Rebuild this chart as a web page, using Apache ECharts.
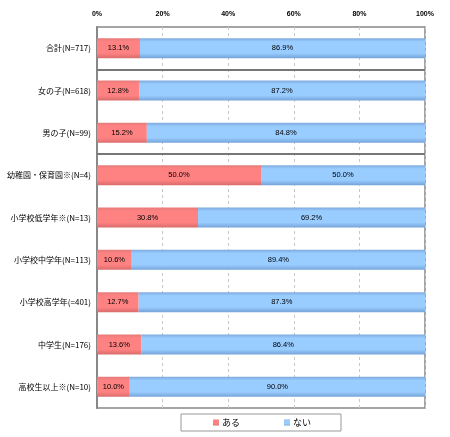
<!DOCTYPE html>
<html>
<head>
<meta charset="utf-8">
<script src="https://cdn.jsdelivr.net/npm/echarts@6/dist/echarts.min.js"></script>
<style>
  html, body { margin: 0; padding: 0; background: #fff; }
  #chart { width: 450px; height: 437px; }
</style>
</head>
<body>
<div id="chart"></div>
<script>
const categories = [
  '合計(N=717)', '女の子(N=618)', '男の子(N=99)', '幼稚園・保育園※(N=4)',
  '小学校低学年※(N=13)', '小学校中学年(N=113)', '小学校高学年(=401)',
  '中学生(N=176)', '高校生以上※(N=10)'
];
const aru = [13.1, 12.8, 15.2, 50.0, 30.8, 10.6, 12.7, 13.6, 10.0];
const nai = [86.9, 87.2, 84.8, 50.0, 69.2, 89.4, 87.3, 86.4, 90.0];
const seriesNames = ['ある', 'ない'];
// group separators (boundary index between rows)
const separators = [1, 3];

const chart = echarts.init(document.getElementById('chart'));

const barGrad = (edgeTop, mid, edgeBot) => new echarts.graphic.LinearGradient(0, 0, 0, 1, [
  { offset: 0, color: edgeTop },
  { offset: 0.18, color: mid },
  { offset: 0.75, color: mid },
  { offset: 1, color: edgeBot }
]);

const labelStyle = {
  show: true,
  position: 'inside',
  color: '#000',
  fontSize: 7.5,
  fontFamily: 'Liberation Sans, Arial, sans-serif',
  formatter: p => p.value.toFixed(1) + '%'
};

chart.setOption({
  animation: false,
  grid: {
    left: 97, right: 25, top: 27, bottom: 29,
    outerBoundsMode: 'none', containLabel: false,
    show: true, borderColor: '#888', borderWidth: 1.5, backgroundColor: '#fff'
  },
  legend: {
    data: seriesNames,
    left: 181, top: 414,
    padding: [4, 30, 4, 32],
    itemGap: 44,
    itemWidth: 6, itemHeight: 6,
    icon: 'rect',
    borderColor: '#999', borderWidth: 1,
    textStyle: { fontSize: 9, color: '#000', fontFamily: 'Noto Sans CJK JP', padding: [0, 0, 0, -2] }
  },
  xAxis: {
    type: 'value', position: 'top', min: 0, max: 100, interval: 20,
    axisLine: { show: false }, axisTick: { show: false },
    axisLabel: {
      formatter: '{value}%', fontSize: 7, color: '#000', fontWeight: 'bold', margin: 9,
      fontFamily: 'Liberation Sans, Arial, sans-serif'
    },
    splitLine: { show: true, lineStyle: { color: '#c8c8c8', type: [3, 3], width: 1 } }
  },
  yAxis: [{
    type: 'category', data: categories, inverse: true,
    axisLine: { show: true, lineStyle: { color: '#888', width: 2 } },
    axisTick: { show: false },
    axisLabel: { fontSize: 8, color: '#000', margin: 6, fontFamily: 'Noto Sans CJK JP' }
  }, {
    type: 'value', min: 0, max: categories.length, inverse: true, show: false
  }],
  series: [{
    name: seriesNames[0], type: 'bar', stack: 'total', data: aru, barWidth: 20,
    itemStyle: { color: barGrad('#e57a7a', '#ff8282', '#d96c6c') },
    label: labelStyle
  }, {
    name: seriesNames[1], type: 'bar', stack: 'total', data: nai, barWidth: 20,
    itemStyle: { color: barGrad('#7faade', '#99ccff', '#75a3d9') },
    label: labelStyle
  }, {
    type: 'line', yAxisIndex: 1, data: [], silent: true,
    markLine: {
      symbol: 'none', silent: true, label: { show: false },
      lineStyle: { color: '#777', width: 2, type: 'solid' },
      data: separators.map(s => ({ yAxis: s }))
    }
  }]
});
</script>
</body>
</html>
